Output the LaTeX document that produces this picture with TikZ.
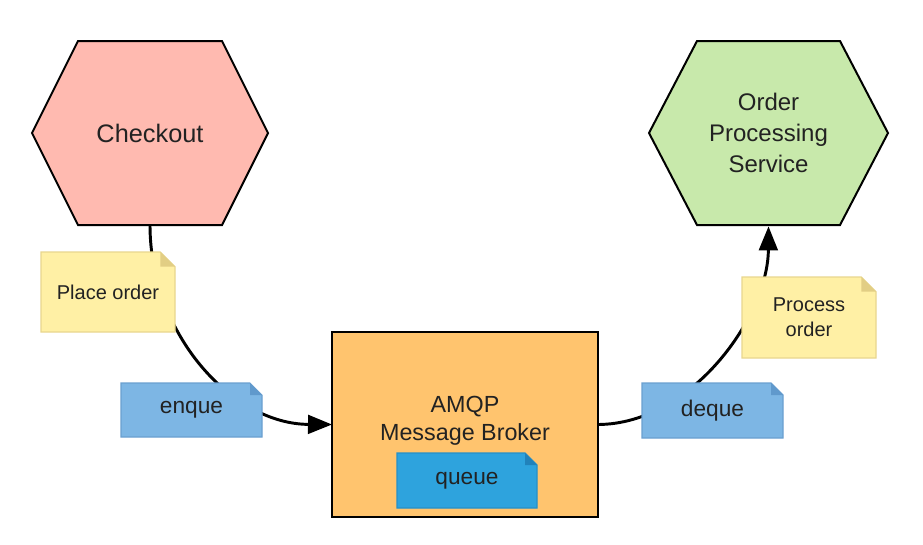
\documentclass[tikz,border=0pt]{standalone}
\usepackage{fontspec}
\setmainfont{Liberation Sans}
\usetikzlibrary{arrows.meta}
\pgfdeclarelayer{bg}\pgfdeclarelayer{mid}
\pgfsetlayers{bg,mid,main}
\definecolor{hexred}{HTML}{FFBAB0}
\definecolor{hexgreen}{HTML}{C8E9AB}
\definecolor{brokerorange}{HTML}{FFC46E}
\definecolor{noteyellow}{HTML}{FFF0A5}
\definecolor{noteyellowb}{HTML}{E8D68E}
\definecolor{noteyellowf}{HTML}{E2CE84}
\definecolor{noteblue}{HTML}{7DB6E4}
\definecolor{notebluebb}{HTML}{6A9FD0}
\definecolor{notebluef}{HTML}{6099CC}
\definecolor{queueblue}{HTML}{2EA3DD}
\definecolor{queuebb}{HTML}{2590C8}
\definecolor{queuef}{HTML}{2182BA}
\definecolor{txt}{HTML}{222222}
\newcommand\notedraw[5]{%
  \fill[#2,draw=#3,line width=0.8pt] (#1.north west) -- ([xshift=-#5]#1.north east) -- ([yshift=-#5]#1.north east) -- (#1.south east) -- (#1.south west) -- cycle;
  \fill[#4] ([xshift=-#5]#1.north east) -- ([yshift=-#5]#1.north east) -- ([xshift=-#5,yshift=-#5]#1.north east) -- cycle;}
\newcommand\hexdraw[3]{%
  \filldraw[fill=#2,draw=black,line width=1.5pt,line join=miter] (#1.west) -- ([xshift=#3]#1.north west) -- ([xshift=-#3]#1.north east) -- (#1.east) -- ([xshift=-#3]#1.south east) -- ([xshift=#3]#1.south west) -- cycle;}
\tikzset{
  box/.style={inner sep=0pt,outer sep=0pt,align=center,text=txt},
  conn/.style={line width=2.2pt,black},
  tip/.style={-{Triangle[length=18pt,width=14pt]}}
}
\begin{document}
\begin{tikzpicture}[x=0.75pt,y=-0.75pt]
\useasboundingbox (0,0) rectangle (923,544);
% nodes
\node[box,minimum width=177pt,minimum height=138pt,font=\fontsize{19}{23}\selectfont] (check) at (150,133) {Checkout};
\node[box,minimum width=179.25pt,minimum height=138pt,font=\fontsize{18}{23.5}\selectfont] (ops) at (768.5,133) {Order\\Processing\\Service};
\node[box,minimum width=199.5pt,minimum height=138.75pt] (broker) at (465,424.5) {};
\node[box,font=\fontsize{17.5}{21}\selectfont] (btext) at (465,421) {AMQP\\Message Broker};
\node[box,minimum width=105pt,minimum height=41.25pt,font=\fontsize{17}{20}\selectfont] (queue) at (467,480.5) {queue};
\node[box,minimum width=100.5pt,minimum height=60pt,font=\fontsize{15}{18.75}\selectfont] (place) at (108,292) {Place order};
\node[box,minimum width=105.75pt,minimum height=40.5pt,font=\fontsize{17}{20}\selectfont] (enque) at (191.5,410) {enque};
\node[box,minimum width=105.75pt,minimum height=41.25pt,font=\fontsize{17}{20}\selectfont] (deque) at (712.5,410.5) {deque};
\node[box,minimum width=100.5pt,minimum height=60.75pt,font=\fontsize{15}{18.75}\selectfont] (proc) at (809,317.5) {Process\\order};
% shapes
\begin{pgfonlayer}{bg}
\hexdraw{check}{hexred}{34.5pt}
\hexdraw{ops}{hexgreen}{36pt}
\filldraw[fill=brokerorange,draw=black,line width=1.8pt] (broker.north west) rectangle (broker.south east);
\draw[conn,tip] (check.south) .. controls (150,334) and (232,424) .. (broker.west);
\draw[conn,tip] (broker.east) .. controls (692,424) and (768,316) .. ([yshift=-1pt]ops.south);
\end{pgfonlayer}
\begin{pgfonlayer}{mid}
\notedraw{queue}{queueblue}{queuebb}{queuef}{9pt}
\notedraw{place}{noteyellow}{noteyellowb}{noteyellowf}{11pt}
\notedraw{proc}{noteyellow}{noteyellowb}{noteyellowf}{11pt}
\notedraw{enque}{noteblue}{notebluebb}{notebluef}{9pt}
\notedraw{deque}{noteblue}{notebluebb}{notebluef}{9pt}
\end{pgfonlayer}
\end{tikzpicture}
\end{document}
